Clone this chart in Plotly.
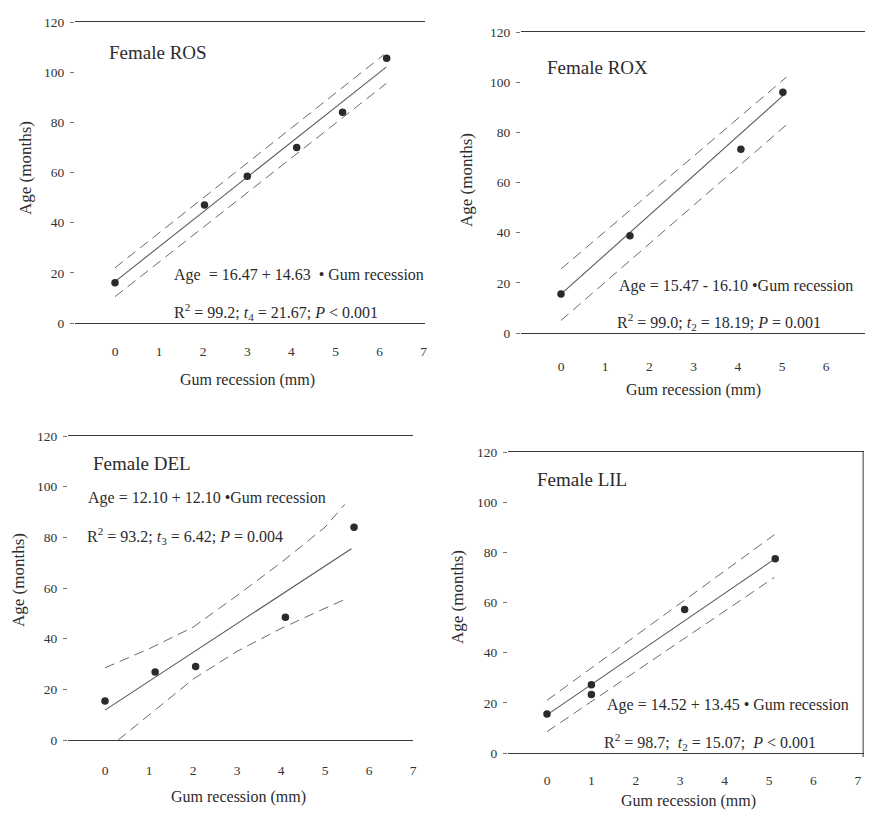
import plotly.graph_objects as go

OFF = 8  # page body margin of the html page
W, H = 873 - 2 * OFF, 819 - 2 * OFF
FONT = "Liberation Serif, Times New Roman, serif"
INK = "#2b2b2b"
LINE = "#5a5a5a"

# ---------------- data ----------------
x_ticks = [0, 1, 2, 3, 4, 5, 6, 7]
y_ticks = [0, 20, 40, 60, 80, 100, 120]

# Female ROS
ros_x = [0, 2.03, 3.0, 4.12, 5.16, 6.16]
ros_y = [16, 47, 58.5, 70, 84, 105.5]
ros_fit_x = [0, 6.15]
ros_fit_y = [16.5, 102]
ros_up_x = [0, 6.1]
ros_up_y = [22, 107]
ros_lo_x = [0, 6.15]
ros_lo_y = [10.5, 95.5]

# Female ROX
rox_x = [0, 1.56, 4.07, 5.02]
rox_y = [15.5, 38.8, 73.3, 96]
rox_fit_x = [0, 5.05]
rox_fit_y = [15.5, 95]
rox_up_x = [0, 5.1]
rox_up_y = [25.5, 102]
rox_lo_x = [0, 5.1]
rox_lo_y = [5, 83]

# Female DEL
del_x = [0, 1.14, 2.06, 4.1, 5.66]
del_y = [15.4, 26.8, 29, 48.5, 84]
del_fit_x = [0, 5.6]
del_fit_y = [11.8, 75.5]
del_up_x = [0, 1, 2, 3, 4, 5, 5.45]
del_up_y = [28.5, 36, 44.5, 57, 70, 84, 93]
del_lo_x = [0.3, 1, 2, 3, 4, 5, 5.52]
del_lo_y = [0, 10, 24, 35, 44, 52, 56]

# Female LIL
lil_x = [0, 1.0, 1.0, 3.1, 5.14]
lil_y = [15.5, 27.2, 23.3, 57.2, 77.4]
lil_fit_x = [0, 5.1]
lil_fit_y = [15.2, 77]
lil_up_x = [0, 5.12]
lil_up_y = [21, 87]
lil_lo_x = [0, 5.12]
lil_lo_y = [8.5, 70]

titles = ["Female ROS", "Female ROX", "Female DEL", "Female LIL"]
eqs = [
    "Age  = 16.47 + 14.63  • Gum recession",
    "Age = 15.47 - 16.10 •Gum recession",
    "Age = 12.10 + 12.10 •Gum recession",
    "Age = 14.52 + 13.45 • Gum recession",
]
stats = [
    "R<sup>2</sup> = 99.2; <i>t</i><sub>4</sub> = 21.67; <i>P</i> < 0.001",
    "R<sup>2</sup> = 99.0; <i>t</i><sub>2</sub> = 18.19; <i>P</i> = 0.001",
    "R<sup>2</sup> = 93.2; <i>t</i><sub>3</sub> = 6.42; <i>P</i> = 0.004",
    "R<sup>2</sup> = 98.7;  <i>t</i><sub>2</sub> = 15.07;  <i>P</i> < 0.001",
]
x_title = "Gum recession (mm)"
y_title = "Age (months)"

panels = [
    dict(px=ros_x, py=ros_y, fx=ros_fit_x, fy=ros_fit_y, ux=ros_up_x, uy=ros_up_y, lx=ros_lo_x, ly=ros_lo_y),
    dict(px=rox_x, py=rox_y, fx=rox_fit_x, fy=rox_fit_y, ux=rox_up_x, uy=rox_up_y, lx=rox_lo_x, ly=rox_lo_y),
    dict(px=del_x, py=del_y, fx=del_fit_x, fy=del_fit_y, ux=del_up_x, uy=del_up_y, lx=del_lo_x, ly=del_lo_y),
    dict(px=lil_x, py=lil_y, fx=lil_fit_x, fy=lil_fit_y, ux=lil_up_x, uy=lil_up_y, lx=lil_lo_x, ly=lil_lo_y),
]

# ---------------- layout geometry (target page pixels) ----------------
geo = [
    dict(L=75, R=425, T=22, B=323, x0=115, ppu=44.1, standoff=16,
         title=(-0.18, 108), eq=(1.29, 19), st=(1.29, 4.5),
         ytitle=(25, 168), xtitle=(248, 380)),
    dict(L=521, R=865, T=32, B=333, x0=561, ppu=44.2, standoff=21,
         title=(-0.36, 106), eq=(1.27, 18.6), st=(1.22, 4.5),
         ytitle=(467, 180), xtitle=(693, 390)),
    dict(L=68, R=413, T=436, B=740, x0=105, ppu=44.0, standoff=18,
         title=(-0.32, 109), eq=(-0.43, 95.5), st=(-0.45, 80.5),
         ytitle=(18, 580), xtitle=(238, 797)),
    dict(L=508, R=864, T=452, B=753, x0=547, ppu=44.4, standoff=15,
         title=(-0.27, 109), eq=(1.31, 19), st=(1.24, 4.5),
         ytitle=(457, 597), xtitle=(688, 801)),
]


def px_x(p):
    return (p - OFF) / W


def px_y(p):
    return 1 - (p - OFF) / H


fig = go.Figure()
annotations = []
shapes = []
layout = dict(
    width=W, height=H,
    margin=dict(l=0, r=0, t=0, b=0, pad=0, autoexpand=False),
    paper_bgcolor="white", plot_bgcolor="white",
    showlegend=False,
    font=dict(family=FONT, color=INK),
)

for i, (p, g) in enumerate(zip(panels, geo)):
    n = "" if i == 0 else str(i + 1)
    xa, ya = "x" + n, "y" + n
    xr = [(g["L"] - g["x0"]) / g["ppu"], (g["R"] - g["x0"]) / g["ppu"]]
    layout["xaxis" + n] = dict(
        domain=[px_x(g["L"]), px_x(g["R"])], range=xr, anchor=ya,
        tickvals=x_ticks, showline=True, mirror=True, linecolor="#3a3a3a",
        linewidth=1, ticks="", showgrid=False, zeroline=False, automargin=False,
        ticklabelstandoff=g["standoff"], ticklabeloverflow="allow",
        tickfont=dict(family=FONT, size=13.5, color="#333"),
    )
    layout["yaxis" + n] = dict(
        domain=[px_y(g["B"]), px_y(g["T"])], range=[0, 120], anchor=xa,
        tickvals=y_ticks, showline=False, ticks="outside", ticklen=4,
        tickcolor="#777", tickwidth=1, showgrid=False, zeroline=False, automargin=False,
        ticklabelstandoff=3,
        tickfont=dict(family=FONT, size=13.5, color="#333"),
    )
    # confidence bands
    for bx, by in ((p["ux"], p["uy"]), (p["lx"], p["ly"])):
        fig.add_trace(go.Scatter(x=bx, y=by, mode="lines", xaxis=xa, yaxis=ya,
                                 line=dict(color="#6a6a6a", width=1, dash="10px,6px"),
                                 hoverinfo="skip"))
    # fitted line
    fig.add_trace(go.Scatter(x=p["fx"], y=p["fy"], mode="lines", xaxis=xa, yaxis=ya,
                             line=dict(color=LINE, width=1.1), hoverinfo="skip"))
    # data points
    fig.add_trace(go.Scatter(x=p["px"], y=p["py"], mode="markers", xaxis=xa, yaxis=ya,
                             marker=dict(color=INK, size=7.5, line=dict(width=0))))

    annotations.append(dict(text=titles[i], x=g["title"][0], y=g["title"][1], xref=xa, yref=ya,
                            xanchor="left", yanchor="middle", showarrow=False,
                            font=dict(family=FONT, size=19, color=INK)))
    annotations.append(dict(text=eqs[i], x=g["eq"][0], y=g["eq"][1], xref=xa, yref=ya,
                            xanchor="left", yanchor="middle", showarrow=False,
                            font=dict(family=FONT, size=16, color=INK)))
    annotations.append(dict(text=stats[i], x=g["st"][0], y=g["st"][1], xref=xa, yref=ya,
                            xanchor="left", yanchor="middle", showarrow=False,
                            font=dict(family=FONT, size=16, color=INK)))
    annotations.append(dict(text=y_title, x=px_x(g["ytitle"][0]), y=px_y(g["ytitle"][1]),
                            xref="paper", yref="paper", textangle=-90,
                            xanchor="center", yanchor="middle", showarrow=False,
                            font=dict(family=FONT, size=17, color=INK)))
    annotations.append(dict(text=x_title, x=px_x(g["xtitle"][0]), y=px_y(g["xtitle"][1]),
                            xref="paper", yref="paper",
                            xanchor="center", yanchor="middle", showarrow=False,
                            font=dict(family=FONT, size=16, color=INK)))

# right frame edge visible on the LIL panel
shapes.append(dict(type="line", xref="paper", yref="paper",
                   x0=px_x(geo[3]["R"]) - 0.001, x1=px_x(geo[3]["R"]) - 0.001,
                   y0=px_y(geo[3]["B"] + 4), y1=px_y(geo[3]["T"]),
                   line=dict(color="#3a3a3a", width=1)))

layout["annotations"] = annotations
layout["shapes"] = shapes
fig.update_layout(**layout)
fig.write_html("out.html")
